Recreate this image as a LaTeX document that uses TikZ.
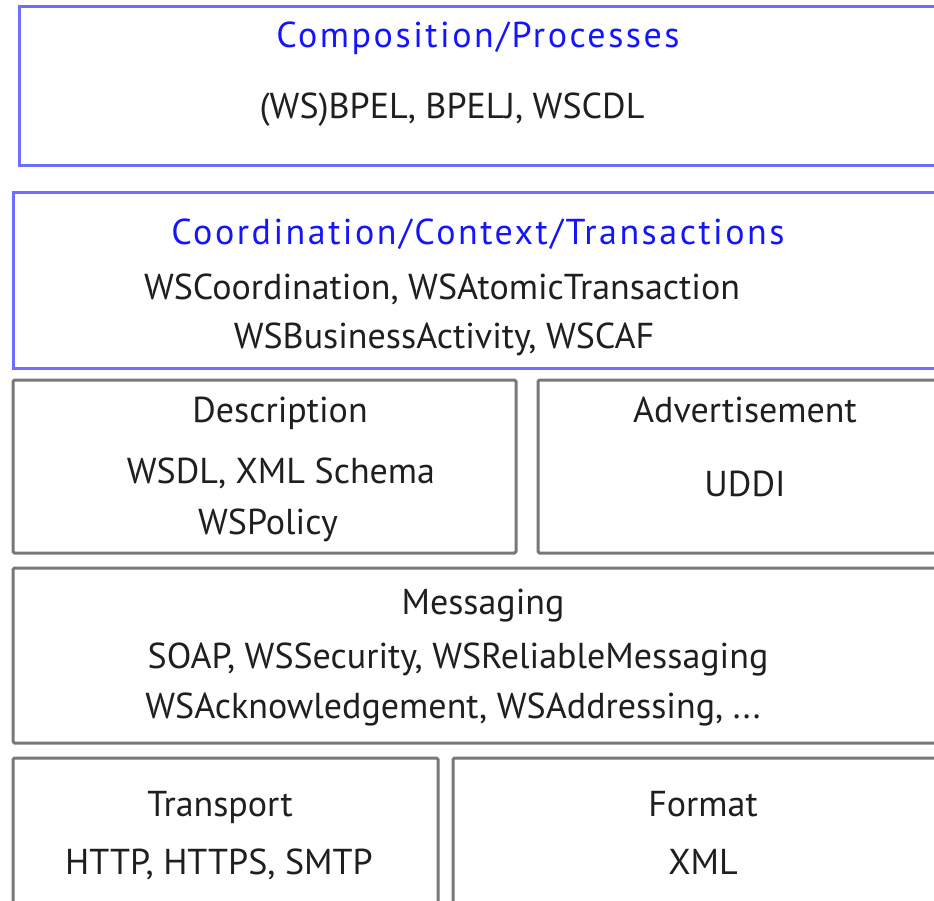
\documentclass[tikz,border=0pt]{standalone}
\usepackage{fontspec}
\setmainfont{PT Sans}
\newfontfamily\ttlfont[LetterSpace=7.0]{PT Sans}
\definecolor{bluebox}{RGB}{110,110,255}
\definecolor{bluetxt}{RGB}{20,20,255}
\definecolor{graybox}{RGB}{120,120,120}
\begin{document}
\begin{tikzpicture}[x=1pt,y=-1pt,
  bbox/.style={draw=bluebox,line width=3pt},
  gbox/.style={draw=graybox,line width=3pt,rounded corners=1.5pt},
  ttl/.style={anchor=base,inner sep=0pt,text=bluetxt,font=\ttlfont\fontsize{36}{40}\selectfont},
  txt/.style={anchor=base,inner sep=0pt,text=black!88,font=\fontsize{36}{40}\selectfont}]
\clip (0,0) rectangle (934,901);
\fill[white] (0,0) rectangle (934,901);
% boxes
\draw[bbox] (19,7) rectangle (960,166);
\draw[bbox] (13,193) rectangle (960,368);
\draw[gbox] (13,380) rectangle (516,553);
\draw[gbox] (538,380) rectangle (960,553);
\draw[gbox] (13,568) rectangle (960,743);
\draw[gbox] (13,758) rectangle (438,930);
\draw[gbox] (453,758) rectangle (960,930);
% texts
\node[ttl] (comp) at (478,48) {Composition/Processes};
\node[txt] (bpel) at (452,119) {(WS)BPEL, BPELJ, WSCDL};
\node[ttl] (coord) at (478,245) {Coordination/Context/Transactions};
\node[txt] (wsc) at (442,299) {WSCoordination, WSAtomicTransaction};
\node[txt] (wsb) at (444,348) {WSBusinessActivity, WSCAF};
\node[txt] (desc) at (280,422) {Description};
\node[txt] (wsdl) at (281,483) {WSDL, XML Schema};
\node[txt] (wsp) at (268,534) {WSPolicy};
\node[txt] (adv) at (745,422) {Advertisement};
\node[txt] (uddi) at (745,496) {UDDI};
\node[txt] (msg) at (483,614) {Messaging};
\node[txt] (soap) at (458,668) {SOAP, WSSecurity, WSReliableMessaging};
\node[txt] (wsa) at (453,718) {WSAcknowledgement, WSAddressing, ...};
\node[txt] (trans) at (220,816) {Transport};
\node[txt] (http) at (219,874) {HTTP, HTTPS, SMTP};
\node[txt] (fmt) at (703,816) {Format};
\node[txt] (xml) at (703,874) {XML};
\end{tikzpicture}
\end{document}
